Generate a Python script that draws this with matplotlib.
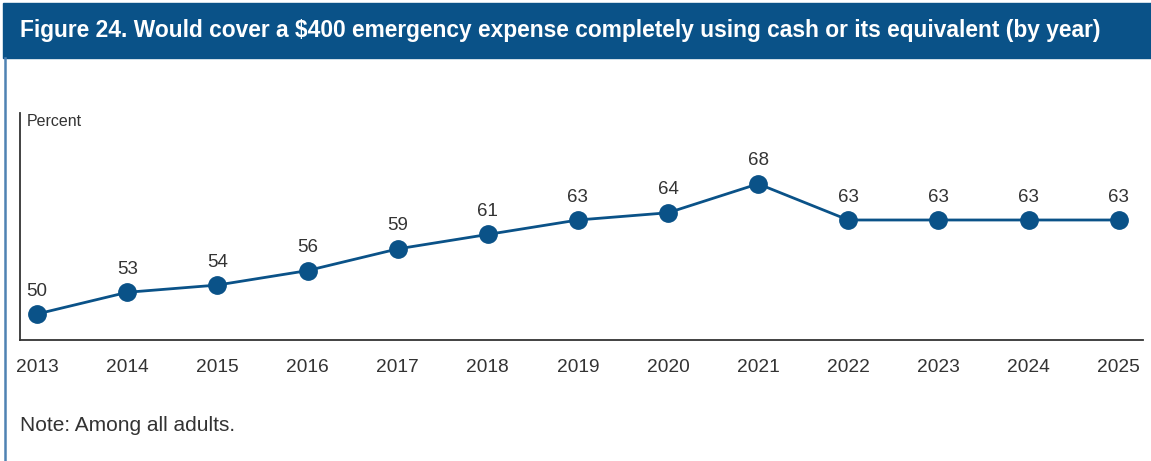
import matplotlib.pyplot as plt
from matplotlib.patches import Rectangle

# 数据
years = [2013, 2014, 2015, 2016, 2017, 2018, 2019, 2020, 2021, 2022, 2023, 2024, 2025]
pct = [50, 53, 54, 56, 59, 61, 63, 64, 68, 63, 63, 63, 63]

BLUE = '#0A5288'
GREY = '#333333'
plt.rcParams['font.family'] = ['Liberation Sans', 'DejaVu Sans']

W, H = 1151, 461
fig = plt.figure(figsize=(W / 100, H / 100), dpi=100)
fig.patch.set_facecolor('white')

# 标题栏与左侧边框
fig.patches.append(Rectangle((3 / W, 1 - 58 / H), 1 - 3 / W, 55 / H,
                             transform=fig.transFigure, color=BLUE, zorder=0))
fig.add_artist(plt.Line2D([4.5 / W, 4.5 / W], [0, 1 - 58 / H],
                          transform=fig.transFigure, color='#4F82B3', lw=1.8))
fig.text(20 / W, 1 - 31 / H,
         'Figure 24. Would cover a $400 emergency expense completely using cash or its equivalent (by year)',
         color='white', fontsize=16.4, fontweight='bold', va='center', ha='left')

ax = fig.add_axes([20 / W, 1 - 340 / H, 1123 / W, 227 / H])
ax.plot(years, pct, color=BLUE, lw=2.0, marker='o', ms=12.5, zorder=3)
for x, y in zip(years, pct):
    ax.annotate(str(y), xy=(x, y), xytext=(0, 16.5), textcoords='offset points',
                ha='center', va='center', fontsize=13.5, color=GREY)

ax.set_xlim(2012.81, 2025.27)
ax.set_ylim(46.4, 77.8)
ax.set_xticks(years)
ax.set_xticklabels([str(y) for y in years], fontsize=13.8, color=GREY)
ax.set_yticks([])
ax.tick_params(axis='x', length=0, pad=14)
ax.spines[['top', 'right']].set_visible(False)
for s in ['left', 'bottom']:
    ax.spines[s].set_color(GREY)
    ax.spines[s].set_linewidth(1.3)

ax.text(7 / 1123, 1 - 8 / 227, 'Percent', transform=ax.transAxes,
        fontsize=11.5, color=GREY, va='center', ha='left')

fig.text(20 / W, 1 - 425 / H, 'Note: Among all adults.', fontsize=15,
         color=GREY, va='center', ha='left')

fig.savefig('out.png', dpi=100, facecolor='white')
